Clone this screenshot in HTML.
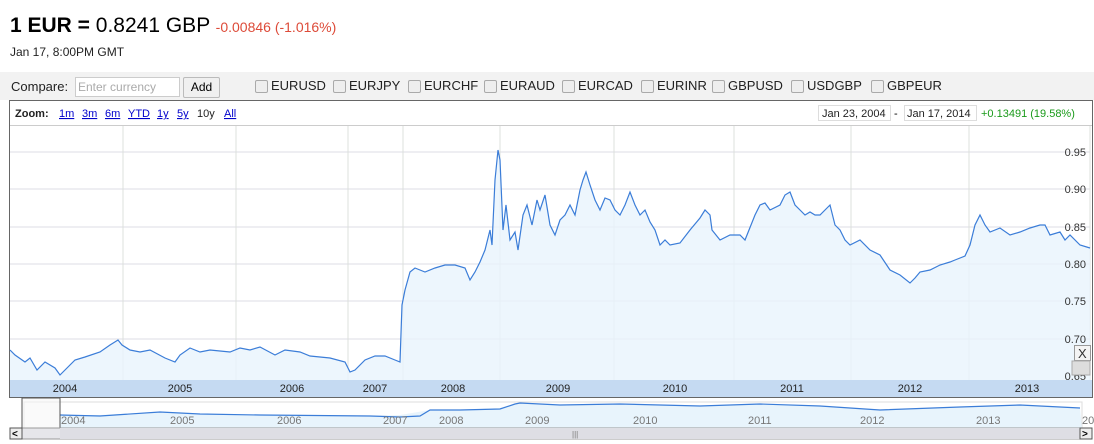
<!DOCTYPE html>
<html><head><meta charset="utf-8"><style>
body{margin:0;width:1094px;height:444px;overflow:hidden;background:#fff;font-family:"Liberation Sans",Arial,sans-serif;position:relative}
.a{position:absolute;white-space:nowrap}
.cb{position:absolute;top:80px;width:11px;height:11px;border:1px solid #aaa;border-radius:2px;background:#eee}
.lb{position:absolute;top:78px;font-size:13px;color:#222}
</style></head><body>
<div class="a" style="left:10px;top:14px;font-size:21px;color:#000"><b>1 EUR =</b> 0.8241 GBP <span style="font-size:14px;color:#dd4b39">-0.00846 (-1.016%)</span></div>
<div class="a" style="left:10px;top:45px;font-size:12px;color:#222">Jan 17, 8:00PM GMT</div>
<div class="a" style="left:0;top:72px;width:1094px;height:28px;background:#f2f2f2"></div>
<div class="a" style="left:11px;top:79px;font-size:13px;color:#222">Compare:</div>
<div class="a" style="left:75px;top:77px;width:101px;height:18px;border:1px solid #ccc;background:#fff;font-size:12px;color:#aaa;line-height:18px;padding-left:2px">Enter currency</div>
<div class="a" style="left:183px;top:77px;width:35px;height:19px;border:1px solid #bbb;background:#f0f0f0;border-radius:2px;font-size:12px;text-align:center;line-height:19px">Add</div>
<div class="cb" style="left:255px"></div><div class="lb" style="left:271px">EURUSD</div>
<div class="cb" style="left:333px"></div><div class="lb" style="left:349px">EURJPY</div>
<div class="cb" style="left:408px"></div><div class="lb" style="left:424px">EURCHF</div>
<div class="cb" style="left:484px"></div><div class="lb" style="left:500px">EURAUD</div>
<div class="cb" style="left:562px"></div><div class="lb" style="left:578px">EURCAD</div>
<div class="cb" style="left:641px"></div><div class="lb" style="left:657px">EURINR</div>
<div class="cb" style="left:712px"></div><div class="lb" style="left:728px">GBPUSD</div>
<div class="cb" style="left:791px"></div><div class="lb" style="left:807px">USDGBP</div>
<div class="cb" style="left:871px"></div><div class="lb" style="left:887px">GBPEUR</div>
<svg class="a" style="left:0;top:0" width="1094" height="444" font-family="Liberation Sans, DejaVu Sans, sans-serif">
<rect x="9.5" y="100.5" width="1083" height="297" fill="none" stroke="#666"/>
<text x="15" y="117" font-size="11" font-weight="bold" fill="#222">Zoom:</text>
<g font-size="11" fill="#00c" text-decoration="underline">
<text x="59" y="117">1m</text><text x="82" y="117">3m</text><text x="105" y="117">6m</text><text x="128" y="117">YTD</text><text x="157" y="117">1y</text><text x="177" y="117">5y</text><text x="224" y="117">All</text></g>
<text x="197" y="117" font-size="11" fill="#222">10y</text>
<rect x="818.5" y="105.5" width="72" height="15" fill="#fff" stroke="#ddd"/>
<text x="822" y="117" font-size="11" fill="#222">Jan 23, 2004</text>
<text x="894" y="117" font-size="11">-</text>
<rect x="904.5" y="105.5" width="72" height="15" fill="#fff" stroke="#ddd"/>
<text x="907" y="117" font-size="11" fill="#222">Jan 17, 2014</text>
<text x="981" y="117" font-size="11" fill="#1a9a1a">+0.13491 (19.58%)</text>
<line x1="10" y1="125.5" x2="1092" y2="125.5" stroke="#ccc"/>
<g stroke="#dcdce4"><line x1="10" y1="152" x2="1090" y2="152"/><line x1="10" y1="189" x2="1090" y2="189"/><line x1="10" y1="227" x2="1090" y2="227"/><line x1="10" y1="264" x2="1090" y2="264"/><line x1="10" y1="301" x2="1090" y2="301"/><line x1="10" y1="339" x2="1090" y2="339"/></g>
<g stroke="#dde0dd"><line x1="123" y1="126" x2="123" y2="380"/><line x1="236" y1="126" x2="236" y2="380"/><line x1="348" y1="126" x2="348" y2="380"/><line x1="403" y1="126" x2="403" y2="380"/><line x1="500" y1="126" x2="500" y2="380"/><line x1="614" y1="126" x2="614" y2="380"/><line x1="734" y1="126" x2="734" y2="380"/><line x1="851" y1="126" x2="851" y2="380"/><line x1="969" y1="126" x2="969" y2="380"/><line x1="1090" y1="126" x2="1090" y2="380"/></g>
<polygon fill="#e8f4fc" fill-opacity="0.8" points="10,380 10,350 15,355 25,362 30,358 37,370 45,362 55,368 60,375 75,360 85,357 100,352 110,345 118,340 122,345 130,350 140,352 150,350 165,358 175,362 180,355 190,348 200,352 210,350 230,352 240,348 250,350 260,347 275,355 285,350 300,352 310,356 330,358 345,362 350,372 355,370 365,360 375,356 385,356 395,360 400,362 402,305 405,290 410,272 415,268 425,272 435,268 445,265 455,265 465,268 470,280 475,272 480,262 485,250 490,230 492,245 495,180 498,150 500,160 503,230 506,205 510,240 515,232 518,250 523,215 527,205 532,225 537,200 540,210 545,195 550,225 555,235 560,220 565,215 570,205 575,215 580,190 583,180 586,172 590,185 595,200 600,210 605,198 610,200 615,210 620,215 625,205 630,192 635,205 640,215 645,210 650,222 655,230 660,245 665,240 670,245 680,243 690,230 700,218 705,210 710,215 712,230 720,240 730,235 740,235 745,240 755,215 760,205 765,203 770,210 780,205 785,195 790,192 795,205 800,210 805,215 810,212 815,215 820,215 825,210 830,205 835,225 840,230 845,240 850,245 860,240 870,250 880,255 890,270 900,275 910,283 915,278 920,272 930,270 940,265 950,262 955,260 965,256 970,245 975,225 980,215 985,225 990,232 1000,228 1010,235 1020,232 1030,228 1040,225 1045,225 1050,235 1060,232 1065,240 1070,235 1080,245 1090,248 1090,380"/>
<polyline fill="none" stroke="#3b7dd8" stroke-width="1.2" points="10,350 15,355 25,362 30,358 37,370 45,362 55,368 60,375 75,360 85,357 100,352 110,345 118,340 122,345 130,350 140,352 150,350 165,358 175,362 180,355 190,348 200,352 210,350 230,352 240,348 250,350 260,347 275,355 285,350 300,352 310,356 330,358 345,362 350,372 355,370 365,360 375,356 385,356 395,360 400,362 402,305 405,290 410,272 415,268 425,272 435,268 445,265 455,265 465,268 470,280 475,272 480,262 485,250 490,230 492,245 495,180 498,150 500,160 503,230 506,205 510,240 515,232 518,250 523,215 527,205 532,225 537,200 540,210 545,195 550,225 555,235 560,220 565,215 570,205 575,215 580,190 583,180 586,172 590,185 595,200 600,210 605,198 610,200 615,210 620,215 625,205 630,192 635,205 640,215 645,210 650,222 655,230 660,245 665,240 670,245 680,243 690,230 700,218 705,210 710,215 712,230 720,240 730,235 740,235 745,240 755,215 760,205 765,203 770,210 780,205 785,195 790,192 795,205 800,210 805,215 810,212 815,215 820,215 825,210 830,205 835,225 840,230 845,240 850,245 860,240 870,250 880,255 890,270 900,275 910,283 915,278 920,272 930,270 940,265 950,262 955,260 965,256 970,245 975,225 980,215 985,225 990,232 1000,228 1010,235 1020,232 1030,228 1040,225 1045,225 1050,235 1060,232 1065,240 1070,235 1080,245 1090,248"/>
<g font-size="11" fill="#333" text-anchor="end"><text x="1086" y="156">0.95</text><text x="1086" y="193">0.90</text><text x="1086" y="231">0.85</text><text x="1086" y="268">0.80</text><text x="1086" y="305">0.75</text><text x="1086" y="343">0.70</text><text x="1086" y="380">0.65</text></g>
<rect x="1074.5" y="345.5" width="16" height="15" fill="#f4f4f4" stroke="#999"/><text x="1078" y="358" font-size="13" fill="#333">X</text>
<rect x="1072" y="361" width="18" height="14" fill="#ddd" stroke="#aaa"/>
<rect x="10" y="380" width="1082" height="17" fill="#c5daf2"/>
<g font-size="11" fill="#222" text-anchor="middle"><text x="65" y="392">2004</text><text x="180" y="392">2005</text><text x="292" y="392">2006</text><text x="375" y="392">2007</text><text x="453" y="392">2008</text><text x="558" y="392">2009</text><text x="675" y="392">2010</text><text x="792" y="392">2011</text><text x="910" y="392">2012</text><text x="1027" y="392">2013</text></g>
<rect x="24" y="402" width="1058" height="26" fill="#fff" stroke="#ddd"/>
<polygon fill="#e8f4fc" points="60,428 60,415 100,415 160,412 200,414 260,415 370,416 400,415 430,410 460,410 500,408 520,403 560,405 620,404 700,406 760,404 820,406 880,410 960,407 1020,405 1080,408 1082,428"/>
<polyline fill="none" stroke="#3b7dd8" stroke-width="1.2" points="60,415 100,416 160,412 200,414 260,415 370,416 400,417 420,416 430,410 460,410 500,409 515,404 520,403 560,405 620,404 700,406 760,404 820,406 880,410 960,407 1020,405 1080,408"/>
<g font-size="11" fill="#777"><text x="61" y="424">2004</text><text x="170" y="424">2005</text><text x="277" y="424">2006</text><text x="383" y="424">2007</text><text x="439" y="424">2008</text><text x="525" y="424">2009</text><text x="633" y="424">2010</text><text x="748" y="424">2011</text><text x="860" y="424">2012</text><text x="976" y="424">2013</text><text x="1082" y="424">20</text></g>
<rect x="22" y="398" width="38" height="30" fill="#f6f6f6" fill-opacity="0.6" stroke="#555"/>
<rect x="10" y="428" width="1082" height="11" fill="#e6e6ea" stroke="#999"/>
<rect x="60" y="428" width="1020" height="11" fill="#dedee4"/>
<text x="572" y="437" font-size="8" fill="#777">|||</text>
<rect x="10" y="428" width="12" height="11" fill="#eee" stroke="#555"/><text x="12" y="437" font-size="10" font-weight="bold">&lt;</text>
<rect x="1080" y="428" width="12" height="11" fill="#eee" stroke="#555"/><text x="1082" y="437" font-size="10" font-weight="bold">&gt;</text>
</svg>
</body></html>
